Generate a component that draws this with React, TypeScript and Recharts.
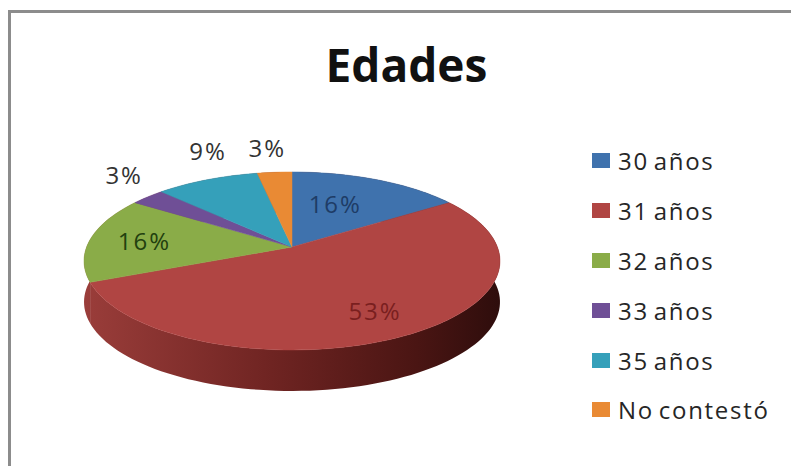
import { Legend, Pie, PieChart } from "recharts";

const categories = ["30 años", "31 años", "32 años", "33 años", "35 años", "No contestó"];
const respuestas = [5, 17, 5, 1, 3, 1];
const colores = ["#3f72ad", "#b04543", "#8aac48", "#6f4f96", "#35a0ba", "#e98a34"];
const labelColors = ["#1e3c66", "#7a1f1f", "#22400f", "#333333", "#333333", "#333333"];
// radius factor and pixel nudge for each label
const labelRadius = [0.5, 0.75, 0.73, 1.15, 1.15, 1.15];
const labelNudgeX = [-2, 2, 0, -4, 12, -5];
const labelNudgeY = [-8, -1, 0, -16, -21, -15];

const data = categories.map((name, i) => ({ name, value: respuestas[i], fill: colores[i] }));
const total = respuestas.reduce((a, b) => a + b, 0);

// fake perspective of the tilted disc, apex sits above the ellipse centre
const RX = 205.4;
const RY = 86.8;
const K = 0.157;
const DEPTH = 41;

function project(cx: number, cy: number, f: number, angle: number) {
  const t = ((90 - angle) * Math.PI) / 180;
  const w = 1 + K * f * Math.cos(t);
  return [cx + (RX * f * Math.sin(t)) / w, cy - (RY * f * Math.cos(t)) / w];
}

function arcPoints(cx: number, cy: number, start: number, end: number) {
  const n = Math.max(2, Math.ceil(Math.abs(end - start) / 2));
  const pts: number[][] = [];
  for (let i = 0; i <= n; i++) pts.push(project(cx, cy, 1, start + ((end - start) * i) / n));
  return pts;
}

function TopSlice(props: any) {
  const { cx, cy, startAngle, endAngle, fill } = props;
  const pts = arcPoints(cx, cy, startAngle, endAngle);
  const d = `M${cx},${cy}L` + pts.map((p) => p.join(",")).join("L") + "Z";
  return <path d={d} fill={fill} stroke={fill} strokeWidth={0.5} />;
}

function WallSlice(props: any) {
  const { cx, cy, startAngle, endAngle } = props;
  const pts = arcPoints(cx, cy, startAngle, endAngle);
  const low = pts.map((p) => [p[0], p[1] + DEPTH]).reverse();
  const d = "M" + [...pts, ...low].map((p) => p.join(",")).join("L") + "Z";
  return <path d={d} fill="url(#wall)" />;
}

function renderLabel(props: any) {
  const { cx, cy, midAngle, index, value } = props;
  const [x, y] = project(cx, cy, labelRadius[index], midAngle);
  return (
    <text
      x={x + labelNudgeX[index]}
      y={y + labelNudgeY[index]}
      textAnchor="middle"
      dominantBaseline="central"
      fontSize={24}
      letterSpacing={2}
      fill={labelColors[index]}
    >
      {`${Math.round((value / total) * 100)}%`}
    </text>
  );
}

function renderLegend({ payload }: any) {
  // the wall pie also reports its items, keep one of each
  const seen = new Set<string>();
  const items = (payload ?? []).filter((item: any) => {
    if (seen.has(item.value)) return false;
    seen.add(item.value);
    return true;
  });
  return (
    <div>
      {items.map((item: any) => (
        <div key={item.value} style={{ height: 49.8, display: "flex", alignItems: "center" }}>
          <span style={{ width: 18, height: 15, background: item.payload.fill, marginRight: 8 }} />
          <span style={{ fontSize: 24, letterSpacing: 1.7, wordSpacing: -3, color: "#262626" }}>{item.value}</span>
        </div>
      ))}
    </div>
  );
}

export default function App() {
  return (
    <div
      style={{
        position: "absolute",
        left: 0,
        top: 0,
        width: 791,
        height: 466,
        background: "#fff",
        fontFamily: "'Open Sans', sans-serif",
        overflow: "hidden",
      }}
    >
      <div style={{ position: "absolute", left: 8, top: 11, width: 3, height: 455, background: "#8c8c8c" }} />
      <div style={{ position: "absolute", left: 8, top: 10, width: 783, height: 3, background: "#8c8c8c" }} />
      <div
        style={{
          position: "absolute",
          left: 0,
          width: 813,
          top: 33,
          textAlign: "center",
          fontSize: 46,
          fontWeight: 700,
          color: "#111",
        }}
      >
        Edades
      </div>
      <PieChart
        width={791}
        height={466}
        margin={{ top: 0, right: 0, bottom: 0, left: 0 }}
        style={{ position: "absolute", left: 0, top: 0 }}
      >
        <defs>
          <linearGradient id="wall" gradientUnits="userSpaceOnUse" x1={84} x2={500} y1={0} y2={0}>
            <stop offset="0%" stopColor="#9a3d3a" />
            <stop offset="45%" stopColor="#6f2422" />
            <stop offset="80%" stopColor="#4a1513" />
            <stop offset="100%" stopColor="#2e0d0c" />
          </linearGradient>
        </defs>
        <Pie
          data={data}
          dataKey="value"
          nameKey="name"
          cx={292}
          cy={247}
          outerRadius={100}
          startAngle={90}
          endAngle={-270}
          stroke="none"
          legendType="none"
          shape={WallSlice}
          isAnimationActive={false}
        />
        <Pie
          data={data}
          dataKey="value"
          nameKey="name"
          cx={292}
          cy={247}
          outerRadius={100}
          startAngle={90}
          endAngle={-270}
          stroke="none"
          shape={TopSlice}
          label={renderLabel}
          labelLine={false}
          isAnimationActive={false}
        />
        <Legend
          layout="vertical"
          content={renderLegend}
          wrapperStyle={{ left: 592, top: 136, width: 195, bottom: "auto", right: "auto" }}
        />
      </PieChart>
    </div>
  );
}
